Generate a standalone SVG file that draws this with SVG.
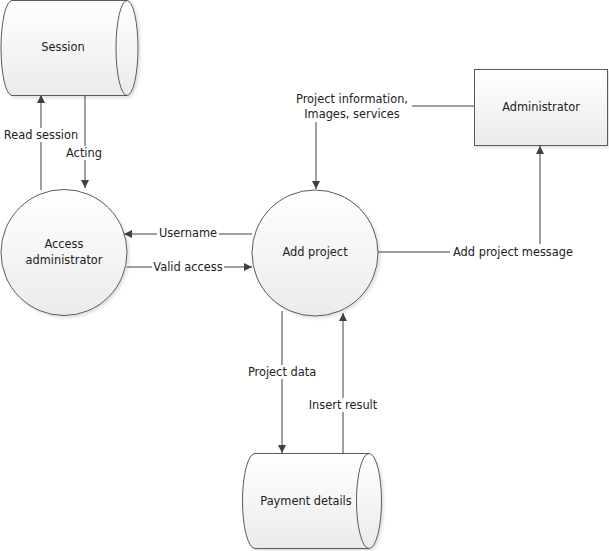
<svg xmlns="http://www.w3.org/2000/svg" width="609" height="551" viewBox="0 0 609 551">
<defs>
<linearGradient id="g" x1="0" y1="0" x2="0" y2="1">
<stop offset="0" stop-color="#ffffff"/>
<stop offset="1" stop-color="#ebebeb"/>
</linearGradient>
<filter id="sh" x="-10%" y="-10%" width="125%" height="125%">
<feDropShadow dx="2" dy="2" stdDeviation="1.5" flood-color="#000" flood-opacity="0.12"/>
</filter>
<marker id="ah" viewBox="0 0 10 10" refX="10" refY="5" markerWidth="9" markerHeight="8" markerUnits="userSpaceOnUse" orient="auto">
<path d="M0,0 L10,5 L0,10 Z" fill="#404040"/>
</marker>
<style>
.n{fill:url(#g);stroke:#5a5a5a;stroke-width:1;filter:url(#sh)}
.i{fill:none;stroke:#5a5a5a;stroke-width:1}
.t{font-family:"DejaVu Sans",Verdana,sans-serif;font-size:11.4px;fill:#222;text-anchor:middle;dominant-baseline:central}
.c{fill:none;stroke:#404040;stroke-width:1}
.lb{fill:#fff}
</style>
</defs>
<rect width="609" height="551" fill="#fff"/>
<g id="connectors">
<path class="c" d="M41,190 L41,95" marker-end="url(#ah)"/>
<path class="c" d="M85,95 L85,188" marker-end="url(#ah)"/>
<path class="c" d="M252,234 L124,234" marker-end="url(#ah)"/>
<path class="c" d="M127,267 L252,267" marker-end="url(#ah)"/>
<path class="c" d="M474,106 L316,106 L316,189" marker-end="url(#ah)"/>
<path class="c" d="M378,252 L540,252 L540,146" marker-end="url(#ah)"/>
<path class="c" d="M282,311 L282,453" marker-end="url(#ah)"/>
<path class="c" d="M343,453 L343,313" marker-end="url(#ah)"/>
<rect class="lb" x="3" y="128" width="76" height="14"/>
<text class="t" x="41" y="135">Read session</text>
<rect class="lb" x="65" y="146" width="38" height="14"/>
<text class="t" x="84" y="153">Acting</text>
<rect class="lb" x="157" y="227" width="62" height="14"/>
<text class="t" x="188" y="233">Username</text>
<rect class="lb" x="152" y="260" width="72" height="14"/>
<text class="t" x="188" y="267">Valid access</text>
<rect class="lb" x="294" y="91" width="118" height="31"/>
<text class="t" x="352" y="99">Project information,</text>
<text class="t" x="352" y="114">Images, services</text>
<rect class="lb" x="450" y="244" width="126" height="16"/>
<text class="t" x="513" y="252">Add project message</text>
<rect class="lb" x="246" y="365" width="72" height="14"/>
<text class="t" x="282" y="372">Project data</text>
<rect class="lb" x="305" y="398" width="76" height="14"/>
<text class="t" x="343" y="405">Insert result</text>
</g>
<g id="session">
<path class="n" d="M12,0.5 L127,0.5 A11,47.5 0 0 1 127,95.5 L12,95.5 A11,47.5 0 0 1 12,0.5 Z"/>
<path class="i" d="M127,0.5 A11,47.5 0 0 0 127,95.5"/>
<text class="t" x="63" y="47">Session</text>
</g>
<g id="administrator">
<rect class="n" x="474.5" y="69.5" width="133" height="76"/>
<text class="t" x="541" y="107">Administrator</text>
</g>
<g id="access-administrator">
<circle class="n" cx="64" cy="252.5" r="63"/>
<text class="t" x="64" y="244">Access</text>
<text class="t" x="64" y="260">administrator</text>
</g>
<g id="add-project">
<circle class="n" cx="315" cy="253" r="63"/>
<text class="t" x="315" y="252">Add project</text>
</g>
<g id="payment-details">
<path class="n" d="M255,453.5 L369,453.5 A12.5,47.5 0 0 1 369,548.5 L255,548.5 A12.5,47.5 0 0 1 255,453.5 Z"/>
<path class="i" d="M369,453.5 A12.5,47.5 0 0 0 369,548.5"/>
<text class="t" x="306" y="501">Payment details</text>
</g>
</svg>
